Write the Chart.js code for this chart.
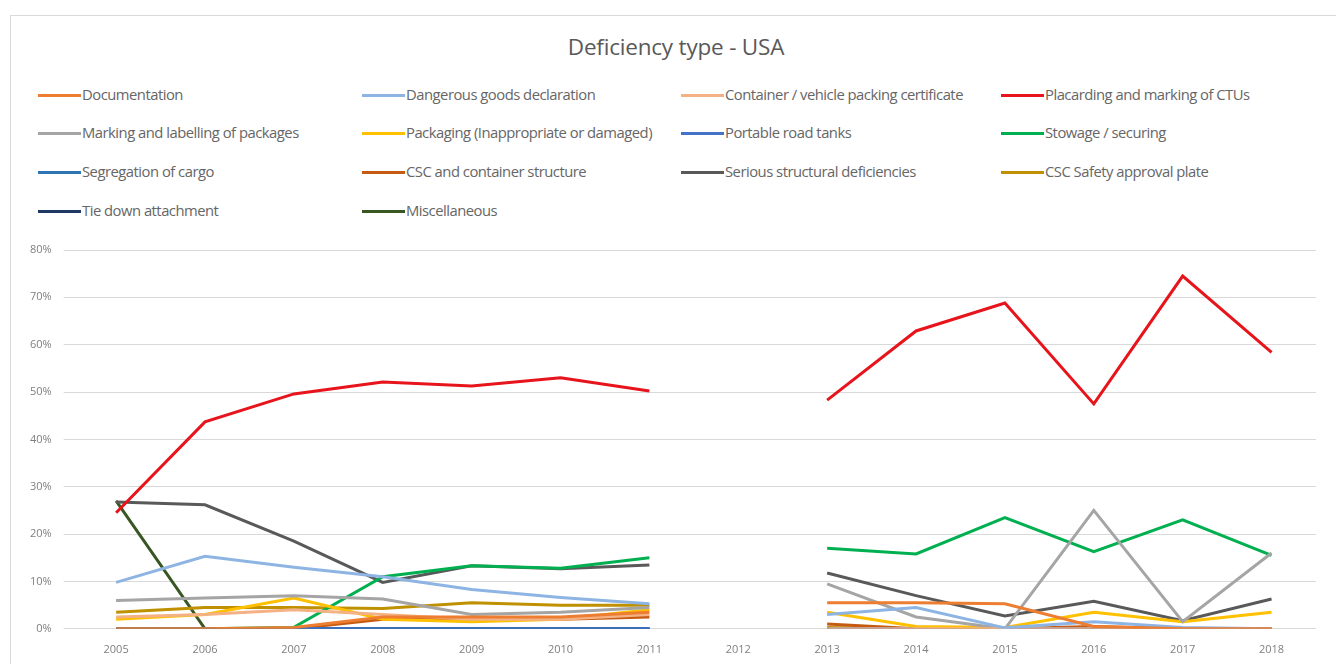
<!DOCTYPE html>
<html>
<head>
<meta charset="utf-8">
<script src="https://cdn.jsdelivr.net/npm/chart.js@4/dist/chart.umd.min.js"></script>
<style>
  html, body { margin: 0; padding: 0; background: #fff; }
  #wrap { position: relative; width: 1336px; height: 664px; overflow: hidden; }
  #frame { position: absolute; left: 10px; top: 15px; width: 1340px; height: 700px; border: 1px solid #d9d9d9; }
  #title { position: absolute; left: 0; width: 1352px; top: 31px; text-align: center;
           font: 22.5px "Open Sans", sans-serif; color: #595959; letter-spacing: -0.2px; }
  #legend { position: absolute; left: 0; top: 0; }
  .item { position: absolute; font: 14.8px "Open Sans", sans-serif; color: #666; white-space: nowrap; letter-spacing: -0.5px; }
  .item span.sw { display: inline-block; width: 43px; height: 3px; vertical-align: middle; margin-right: 1px; position: relative; top: -1px; }
  canvas { position: absolute; left: 0; top: 0; }
</style>
</head>
<body>
<div id="wrap">
  <div id="frame"></div>
  <div id="title">Deficiency type - USA</div>
  <div id="legend"></div>
  <canvas id="chart" width="1336" height="664"></canvas>
</div>
<script>
const years = ['2005','2006','2007','2008','2009','2010','2011','2012','2013','2014','2015','2016','2017','2018'];
const yTicks = [0, 10, 20, 30, 40, 50, 60, 70, 80];

const documentation   = [0, 0, 0.3, 2.5, 2.5, 2.5, 3.5, null, 5.5, 5.5, 5.3, 0.5, 0, 0];
const dangerousGoods  = [9.8, 15.3, 13, 11, 8.3, 6.6, 5.3, null, 3, 4.5, 0.2, 1.5, 0.3, 0];
const packingCert     = [2.5, 3, 4, 3, 2, 2, 3, null, 0, 0, 0, 0, 0, 0];
const placarding      = [24.5, 43.7, 49.6, 52.1, 51.3, 53, 50.2, null, 48.3, 62.9, 68.8, 47.5, 74.5, 58.4];
const markingPackages = [6, 6.5, 7, 6.3, 3, 3.5, 4.5, null, 9.5, 2.5, 0, 25, 1.5, 16];
const packaging       = [2, 3, 6.5, 2, 1.5, 2, 4, null, 3.5, 0.5, 0.3, 3.5, 1.5, 3.5];
const roadTanks       = [0, 0, 0, 0, 0, 0, 0, null, 0, 0, 0, 0, 0, 0];
const stowage         = [0, 0, 0.3, 11, 13.3, 12.8, 15, null, 17, 15.8, 23.5, 16.3, 23, 15.5];
const segregation     = [0, 0, 0, 0, 0, 0, 0, null, 0, 0, 0, 0, 0, 0];
const cscStructure    = [0, 0, 0, 2, 2, 2, 2.5, null, 1, 0, 0, 0.5, 0, 0];
const seriousStruct   = [26.8, 26.2, 18.5, 9.8, 13.3, 12.7, 13.5, null, 11.8, 7, 2.7, 5.8, 1.7, 6.3];
const cscPlate        = [3.5, 4.5, 4.5, 4.3, 5.5, 5, 5, null, 0.3, 0, 0, 0, 0, 0];
const tieDown         = [0, 0, 0, 0, 0, 0, 0, null, 0, 0, 0, 0, 0, 0];
const miscellaneous   = [27, 0, 0, 0, 0, 0, 0, null, 0, 0, 0, 0, 0, 0];

const series = [
  { label: 'Documentation', data: documentation, color: '#ED7D31' },
  { label: 'Dangerous goods declaration', data: dangerousGoods, color: '#8EB4E3' },
  { label: 'Container / vehicle packing certificate', data: packingCert, color: '#F4B183' },
  { label: 'Placarding and marking of CTUs', data: placarding, color: '#E8141C' },
  { label: 'Marking and labelling of packages', data: markingPackages, color: '#A5A5A5' },
  { label: 'Packaging (Inappropriate or damaged)', data: packaging, color: '#FFC000' },
  { label: 'Portable road tanks', data: roadTanks, color: '#4472C4' },
  { label: 'Stowage / securing', data: stowage, color: '#00B050' },
  { label: 'Segregation of cargo', data: segregation, color: '#2E75B6' },
  { label: 'CSC and container structure', data: cscStructure, color: '#C55A11' },
  { label: 'Serious structural deficiencies', data: seriousStruct, color: '#595959' },
  { label: 'CSC Safety approval plate', data: cscPlate, color: '#BF9000' },
  { label: 'Tie down attachment', data: tieDown, color: '#203864' },
  { label: 'Miscellaneous', data: miscellaneous, color: '#385723' }
];

// legend as 4 columns like the excel one
const colX = [38, 362, 681, 1001];
const rowY = [84, 122, 161, 200];
const legend = document.getElementById('legend');
series.forEach((s, i) => {
  const d = document.createElement('div');
  d.className = 'item';
  d.style.left = colX[i % 4] + 'px';
  d.style.top = rowY[Math.floor(i / 4)] + 'px';
  d.innerHTML = '<span class="sw" style="background:' + s.color + '"></span>' + s.label;
  legend.appendChild(d);
});

const ctx = document.getElementById('chart').getContext('2d');
new Chart(ctx, {
  type: 'line',
  data: {
    labels: years,
    datasets: series.map(s => ({
      label: s.label,
      data: s.data,
      borderColor: s.color,
      backgroundColor: s.color,
      borderWidth: 3,
      pointRadius: 0,
      tension: 0,
      spanGaps: false
    }))
  },
  options: {
    responsive: false,
    animation: false,
    layout: { padding: { top: 250, left: 18, right: 20, bottom: 2 } },
    plugins: { legend: { display: false }, tooltip: { enabled: false } },
    scales: {
      x: {
        offset: true,
        grid: { display: false },
        border: { display: false },
        ticks: { color: '#7f7f7f', font: { family: 'Open Sans', size: 11 }, padding: 6 }
      },
      y: {
        min: 0,
        max: 80,
        afterBuildTicks: axis => { axis.ticks = yTicks.map(v => ({ value: v })); },
        grid: { color: '#d9d9d9', lineWidth: 1 },
        border: { display: false },
        ticks: { color: '#7f7f7f', font: { family: 'Open Sans', size: 11 }, padding: 12,
                 callback: v => v + '%' }
      }
    }
  }
});
</script>
</body>
</html>
